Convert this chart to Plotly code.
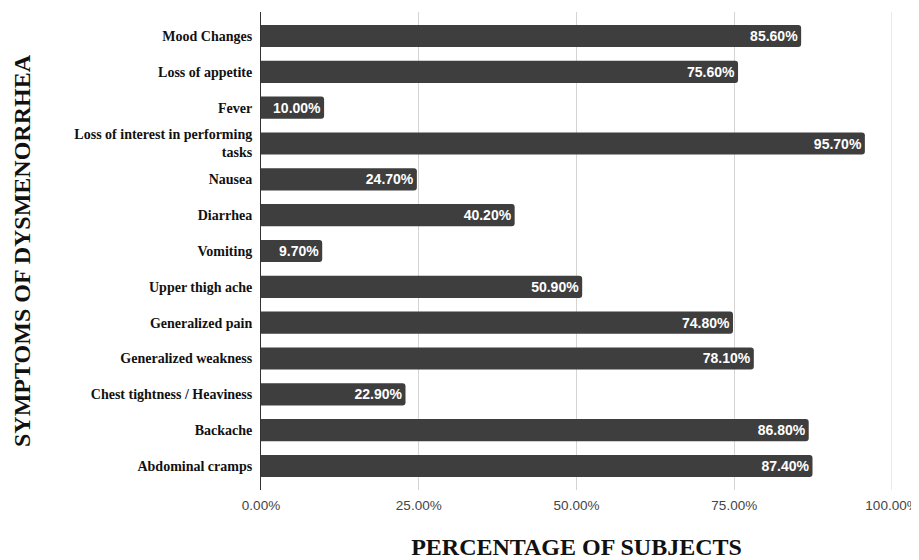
import plotly.graph_objects as go

symptoms = ["Mood Changes", "Loss of appetite", "Fever",
            "Loss of interest in performing<br>tasks", "Nausea", "Diarrhea",
            "Vomiting", "Upper thigh ache", "Generalized pain",
            "Generalized weakness", "Chest tightness / Heaviness",
            "Backache", "Abdominal cramps"]
percent = [85.6, 75.6, 10.0, 95.7, 24.7, 40.2, 9.7, 50.9, 74.8, 78.1, 22.9, 86.8, 87.4]
tick_vals = [0, 25, 50, 75, 100]
tick_text = ["0.00%", "25.00%", "50.00%", "75.00%", "100.00%"]

fig = go.Figure(go.Bar(
    x=percent, y=symptoms, orientation="h",
    marker=dict(color="#3e3e3e", line=dict(width=0)),
    text=[f"{v:.2f}%" for v in percent],
    textposition="inside", insidetextanchor="end",
    textfont=dict(family="Liberation Sans", size=14, color="white", weight="bold"),
    width=0.62,
))
# gridline at the right end of the axis (plotly omits it at the range edge)
fig.add_vline(x=tick_vals[-1], line=dict(color="#d4d4d4", width=1), layer="below")
# page body has an 8px margin, so the figure is sized/offset to compensate
fig.update_layout(
    width=911, height=552,
    margin=dict(l=253, r=27, t=4, b=70),
    plot_bgcolor="white", paper_bgcolor="white",
    barcornerradius=3,
    showlegend=False,
    uniformtext=dict(minsize=14, mode="show"),
)
fig.update_xaxes(
    range=[0, 100], tickvals=tick_vals, ticktext=tick_text,
    showgrid=True, gridcolor="#d4d4d4", gridwidth=1,
    zeroline=False, showline=False, automargin=False,
    tickfont=dict(family="Liberation Sans", size=13.5, color="#444"),
    ticklen=0, ticks="", ticklabelstandoff=5, ticklabeloverflow="allow",
    title=dict(text="PERCENTAGE OF SUBJECTS", standoff=38,
               font=dict(family="Liberation Serif", size=24, color="#111", weight="bold")),
)
fig.update_yaxes(
    categoryorder="array", categoryarray=symptoms, autorange=False,
    range=[12.67, -0.67], automargin=False,
    showline=True, linecolor="#333", linewidth=1,
    showgrid=False, ticks="", ticklen=0, ticklabelstandoff=5,
    tickfont=dict(family="Liberation Serif", size=14, color="#111", weight="bold"),
    title=dict(text="SYMPTOMS OF DYSMENORRHEA", standoff=36,
               font=dict(family="Liberation Serif", size=24, color="#111", weight="bold")),
)
fig.write_html("out.html")
